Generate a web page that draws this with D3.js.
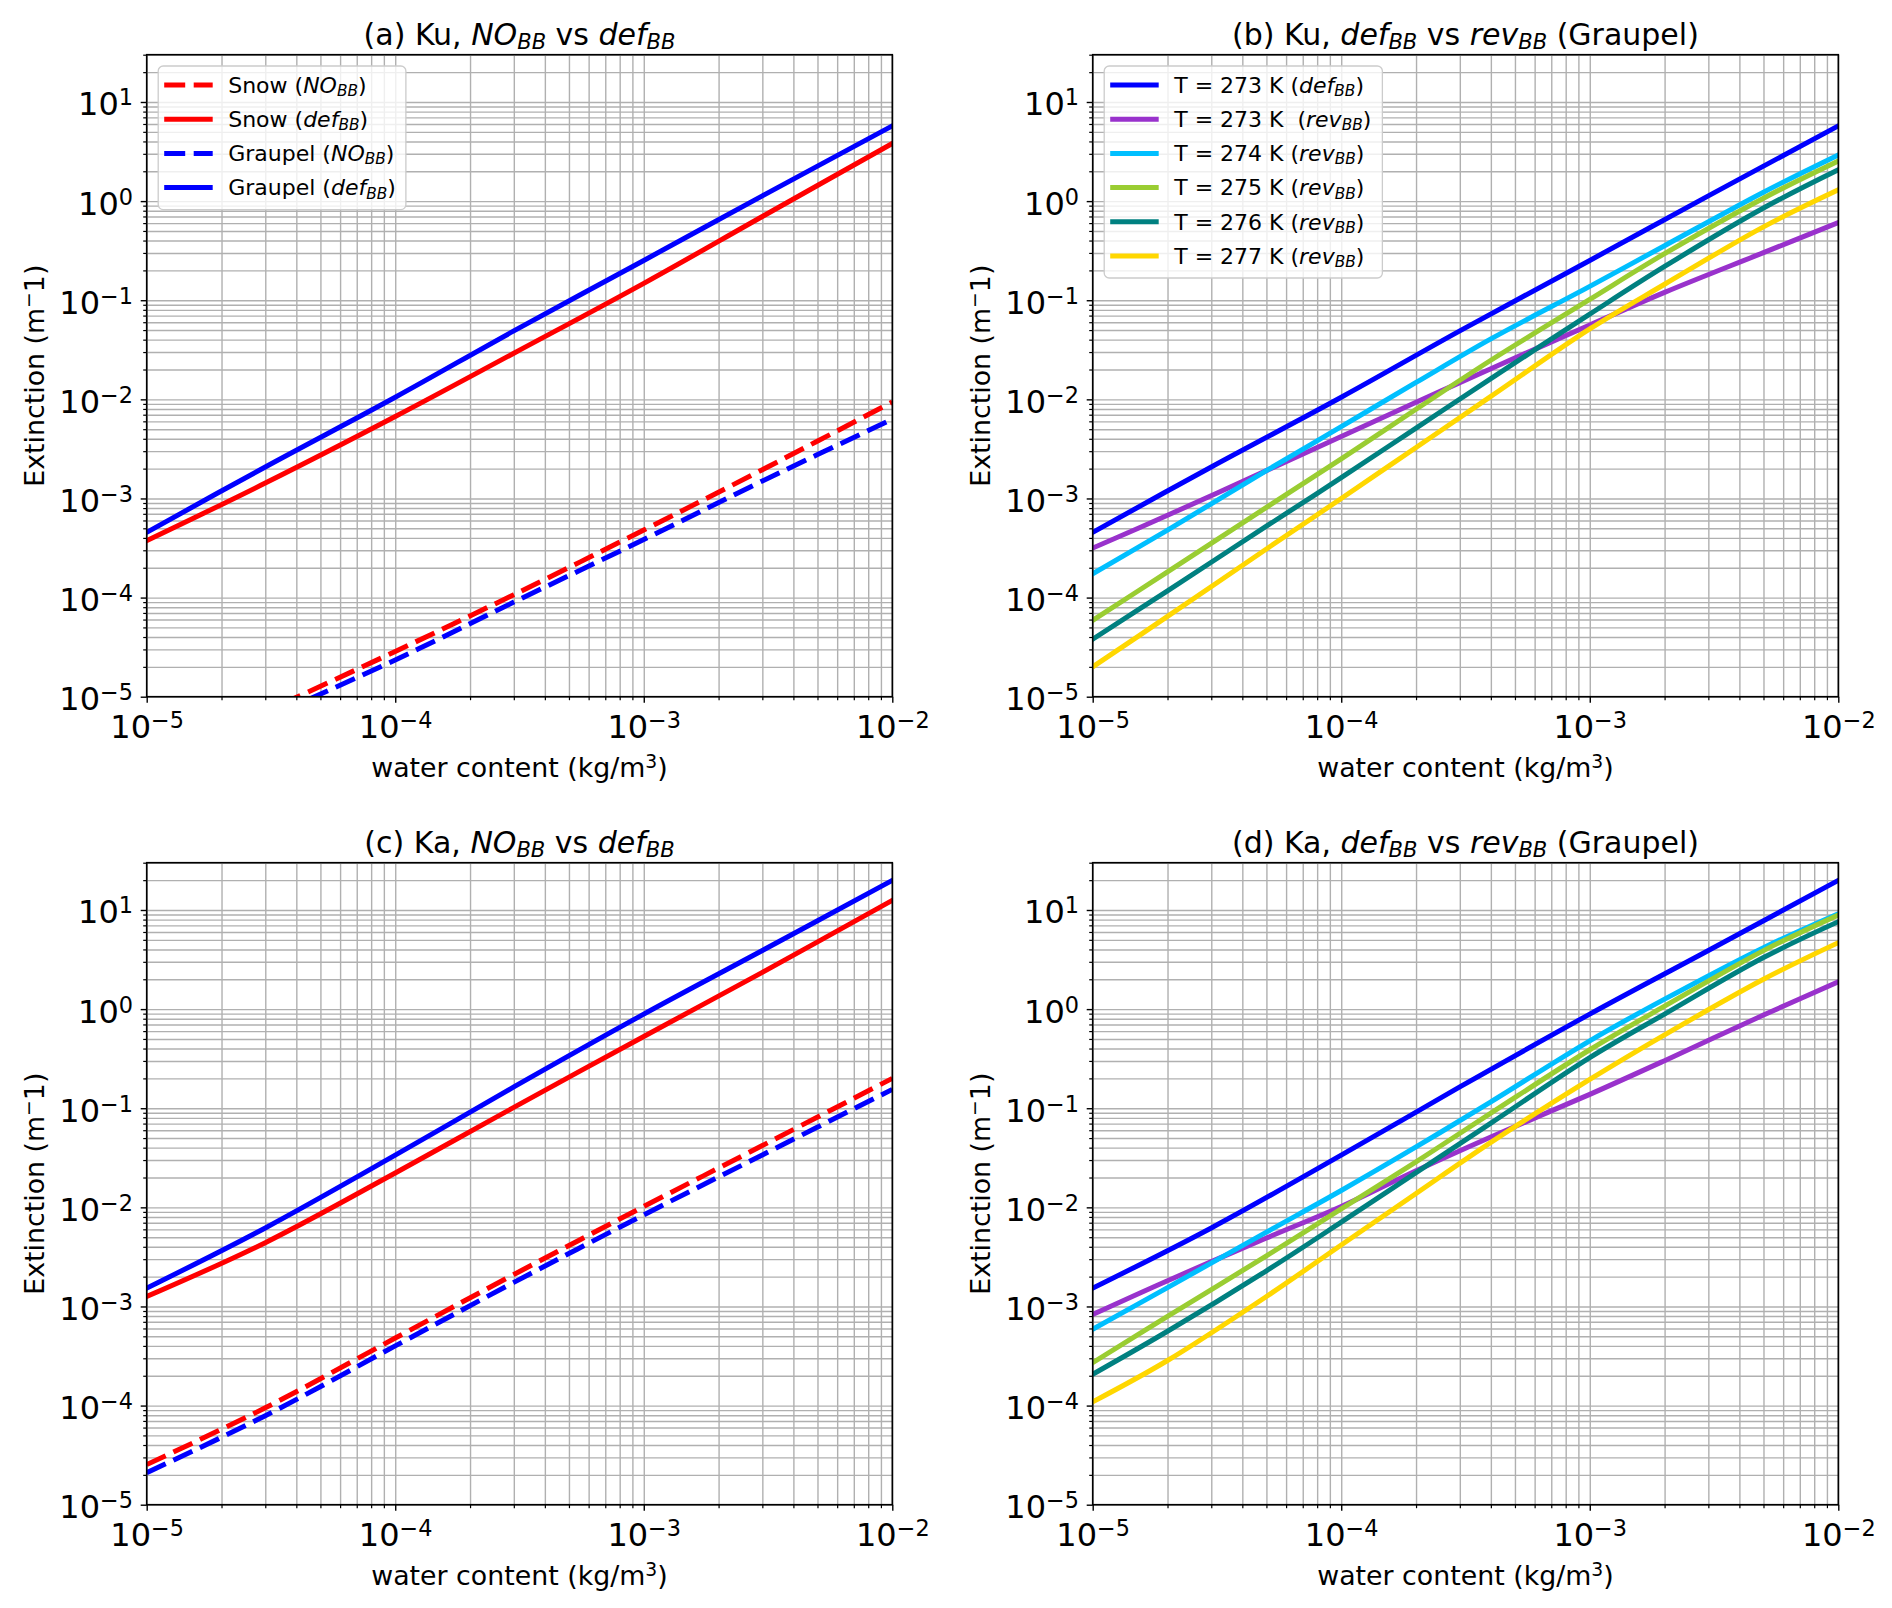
<!DOCTYPE html>
<html>
<head>
<meta charset="utf-8">
<script src="https://cdn.jsdelivr.net/npm/d3@7"></script>
<style>
  body { margin: 0; background: #ffffff; }
  text { font-family: "DejaVu Sans", sans-serif; fill: #000; white-space: pre; }
</style>
</head>
<body>
<svg id="chart" width="1892" height="1608"></svg>
<script>
// ---------------- DATA ----------------
// water content (kg/m^3) sample points
const xNO  = [1e-5, 3e-5, 1e-4, 3e-4, 1e-3, 3e-3, 1e-2];
const xRev = [1e-5, 2e-5, 5e-5, 1e-4, 2e-4, 4e-4, 1e-3, 2e-3, 5e-3, 1e-2];

// (a) Ku, NO_BB vs def_BB  -- extinction (m^-1)
const kuSnowNO     = [2.1e-6, 7.1e-6, 2.86e-5, 1.07e-4, 4.8e-4, 1.95e-3, 9.4e-3];
const kuSnowDef    = [3.75e-4, 1.43e-3, 6.71e-3, 0.0292, 0.148, 0.70, 3.82];
const kuGraupelNO  = [1.8e-6, 6.0e-6, 2.35e-5, 9.0e-5, 3.85e-4, 1.5e-3, 6.3e-3];
const kuGraupelDef = [4.55e-4, 2.08e-3, 0.0105, 0.049, 0.252, 1.13, 5.74];

// (c) Ka, NO_BB vs def_BB
const kaSnowNO     = [2.54e-5, 9.5e-5, 4.8e-4, 2.1e-3, 0.0102, 0.042, 0.2];
const kaSnowDef    = [1.26e-3, 4.4e-3, 0.0222, 0.102, 0.53, 2.35, 12.5];
const kaGraupelNO  = [2.1e-5, 7.9e-5, 4.0e-4, 1.75e-3, 8.4e-3, 0.0338, 0.155];
const kaGraupelDef = [1.53e-3, 6.2e-3, 0.0336, 0.164, 0.89, 3.9, 19.9];

// (b) Ku, def_BB vs rev_BB (Graupel)
const kuRev273 = [3.16e-4, 6.76e-4, 1.91e-3, 4.22e-3, 9.33e-3, 0.0204, 0.0562, 0.120, 0.302, 0.607];
const kuRev274 = [1.74e-4, 4.79e-4, 1.91e-3, 5.31e-3, 0.0148, 0.0407, 0.138, 0.355, 1.23, 2.92];
const kuRev275 = [5.89e-5, 1.82e-4, 8.13e-4, 2.51e-3, 7.94e-3, 0.0248, 0.102, 0.295, 1.07, 2.54];
const kuRev276 = [3.8e-5, 1.17e-4, 5.25e-4, 1.62e-3, 5.13e-3, 0.0162, 0.0724, 0.219, 0.851, 2.07];
const kuRev277 = [2.0e-5, 6.46e-5, 3.09e-4, 1.0e-3, 3.27e-3, 0.0107, 0.0513, 0.145, 0.55, 1.30];

// (d) Ka, def_BB vs rev_BB (Graupel)
const kaRev273 = [8.3e-4, 1.82e-3, 4.9e-3, 0.0102, 0.0234, 0.0513, 0.138, 0.302, 0.871, 1.89];
const kaRev274 = [5.89e-4, 1.55e-3, 5.62e-3, 0.0148, 0.0407, 0.116, 0.479, 1.26, 4.17, 9.18];
const kaRev275 = [2.71e-4, 7.94e-4, 3.24e-3, 9.66e-3, 0.0288, 0.0891, 0.389, 1.07, 3.89, 8.91];
const kaRev276 = [2.07e-4, 5.62e-4, 2.29e-3, 7.08e-3, 0.0224, 0.0708, 0.324, 0.891, 3.31, 7.62];
const kaRev277 = [1.09e-4, 2.85e-4, 1.26e-3, 4.17e-3, 0.0138, 0.0452, 0.195, 0.55, 2.0, 4.68];

// axes
const xDomain = [1e-5, 1e-2];
const yDomain = [1e-5, 30];
const xMajorTicks = [1e-5, 1e-4, 1e-3, 1e-2];
const yMajorTicks = [1e-5, 1e-4, 1e-3, 1e-2, 1e-1, 1e0, 1e1];
const xTickExp = ["\u22125", "\u22124", "\u22123", "\u22122"];
const yTickExp = ["\u22125", "\u22124", "\u22123", "\u22122", "\u22121", "0", "1"];

// texts (segments: [text, flags]; i = italic, s = subscript, ^ = superscript)
const titleA = [["(a) Ku, "], ["NO", "i"], ["BB", "is"], [" vs "], ["def", "i"], ["BB", "is"]];
const titleB = [["(b) Ku, "], ["def", "i"], ["BB", "is"], [" vs "], ["rev", "i"], ["BB", "is"], [" (Graupel)"]];
const titleC = [["(c) Ka, "], ["NO", "i"], ["BB", "is"], [" vs "], ["def", "i"], ["BB", "is"]];
const titleD = [["(d) Ka, "], ["def", "i"], ["BB", "is"], [" vs "], ["rev", "i"], ["BB", "is"], [" (Graupel)"]];
const xLabel = [["water content (kg/m"], ["3", "^"], [")"]];
const yLabel = [["Extinction (m"], ["\u2212", "^"], ["1)"]];

const labSnowNO     = [["Snow ("], ["NO", "i"], ["BB", "is"], [")"]];
const labSnowDef    = [["Snow ("], ["def", "i"], ["BB", "is"], [")"]];
const labGraupelNO  = [["Graupel ("], ["NO", "i"], ["BB", "is"], [")"]];
const labGraupelDef = [["Graupel ("], ["def", "i"], ["BB", "is"], [")"]];
const labT273def = [["T = 273 K ("], ["def", "i"], ["BB", "is"], [")"]];
const labT273rev = [["T = 273 K  ("], ["rev", "i"], ["BB", "is"], [")"]];
const labT274rev = [["T = 274 K ("], ["rev", "i"], ["BB", "is"], [")"]];
const labT275rev = [["T = 275 K ("], ["rev", "i"], ["BB", "is"], [")"]];
const labT276rev = [["T = 276 K ("], ["rev", "i"], ["BB", "is"], [")"]];
const labT277rev = [["T = 277 K ("], ["rev", "i"], ["BB", "is"], [")"]];

const colSnow = "#ff0000", colGraupel = "#0000ff";
const colT = ["#0000ff", "#9932cc", "#00bfff", "#9acd32", "#008080", "#ffd700"];

// ---------------- LAYOUT ----------------
const W = 745.6, H = 642;
const ORIGIN_X = 146.7, ORIGIN_Y = 54.7, STEP_X = 946, STEP_Y = 808;
const LW = 5, DASH = "21,8.5";

const nbSeries = (sn, sd, gn, gd) => [
  { xs: xNO, ys: sn, color: colSnow, dash: true, label: labSnowNO },
  { xs: xNO, ys: sd, color: colSnow, dash: false, label: labSnowDef },
  { xs: xNO, ys: gn, color: colGraupel, dash: true, label: labGraupelNO },
  { xs: xNO, ys: gd, color: colGraupel, dash: false, label: labGraupelDef }
];
const revSeries = (def, r3, r4, r5, r6, r7) => [
  { xs: xNO, ys: def, color: colT[0], dash: false, label: labT273def },
  { xs: xRev, ys: r3, color: colT[1], dash: false, label: labT273rev },
  { xs: xRev, ys: r4, color: colT[2], dash: false, label: labT274rev },
  { xs: xRev, ys: r5, color: colT[3], dash: false, label: labT275rev },
  { xs: xRev, ys: r6, color: colT[4], dash: false, label: labT276rev },
  { xs: xRev, ys: r7, color: colT[5], dash: false, label: labT277rev }
];

const panels = [
  { id: "a", col: 0, row: 0, title: titleA, legend: true,
    series: nbSeries(kuSnowNO, kuSnowDef, kuGraupelNO, kuGraupelDef) },
  { id: "b", col: 1, row: 0, title: titleB, legend: true,
    series: revSeries(kuGraupelDef, kuRev273, kuRev274, kuRev275, kuRev276, kuRev277) },
  { id: "c", col: 0, row: 1, title: titleC, legend: false,
    series: nbSeries(kaSnowNO, kaSnowDef, kaGraupelNO, kaGraupelDef) },
  { id: "d", col: 1, row: 1, title: titleD, legend: false,
    series: revSeries(kaGraupelDef, kaRev273, kaRev274, kaRev275, kaRev276, kaRev277) }
];

// ---------------- HELPERS ----------------
function rich(sel, segs, size) {
  let shift = 0;
  segs.forEach(([t, f = ""]) => {
    const ts = sel.append("tspan").text(t);
    const sub = f.includes("s"), sup = f.includes("^");
    const target = sub ? 0.15 * size : (sup ? -0.33 * size : 0);
    const dy = target - shift;
    shift = target;
    if (dy !== 0) ts.attr("dy", dy);
    if (sub || sup) ts.attr("font-size", size * 0.7);
    if (f.includes("i")) ts.attr("font-style", "italic");
  });
  return sel;
}

const svg = d3.select("#chart");
svg.append("rect").attr("width", 1892).attr("height", 1608).attr("fill", "#fff");

const x = d3.scaleLog().domain(xDomain).range([0, W]);
const y = d3.scaleLog().domain(yDomain).range([H, 0]);
const xAll = x.ticks().filter(v => v >= xDomain[0] * 0.999 && v <= xDomain[1] * 1.001);
const yAll = y.ticks().filter(v => v >= yDomain[0] * 0.999 && v <= yDomain[1] * 1.001);
const isMajor = v => Math.abs(Math.log10(v) - Math.round(Math.log10(v))) < 1e-6;
const xMinor = xAll.filter(v => !isMajor(v));
const yMinor = yAll.filter(v => !isMajor(v));

const line = d3.line().x(d => x(d[0])).y(d => y(d[1])).curve(d3.curveCatmullRom.alpha(0.5));

panels.forEach(p => {
  const left = ORIGIN_X + p.col * STEP_X, top = ORIGIN_Y + p.row * STEP_Y;
  const g = svg.append("g").attr("transform", `translate(${left},${top})`);

  // clip
  const clipId = "clip-" + p.id;
  svg.append("defs").append("clipPath").attr("id", clipId)
    .append("rect").attr("x", 0).attr("y", 0).attr("width", W).attr("height", H);

  // grid (major + minor)
  const gx = g.append("g").attr("transform", `translate(0,${H})`)
    .call(d3.axisBottom(x).tickValues(xAll).tickSizeInner(-H).tickSizeOuter(0).tickFormat(""));
  const gy = g.append("g")
    .call(d3.axisLeft(y).tickValues(yAll).tickSizeInner(-W).tickSizeOuter(0).tickFormat(""));
  [gx, gy].forEach(s => {
    s.select(".domain").remove();
    s.selectAll(".tick line").attr("stroke", "#b0b0b0").attr("stroke-width", 1.4);
  });

  // data lines
  const lg = g.append("g").attr("clip-path", `url(#${clipId})`);
  p.series.forEach(s => {
    const pts = s.xs.map((xv, i) => [xv, s.ys[i]]);
    lg.append("path").attr("d", line(pts))
      .attr("fill", "none").attr("stroke", s.color).attr("stroke-width", LW)
      .attr("stroke-dasharray", s.dash ? DASH : null)
      .attr("stroke-linecap", s.dash ? "butt" : "square");
  });

  // minor ticks
  const mx = g.append("g").attr("transform", `translate(0,${H})`)
    .call(d3.axisBottom(x).tickValues(xMinor).tickSizeInner(3.5).tickSizeOuter(0).tickFormat(""));
  const my = g.append("g")
    .call(d3.axisLeft(y).tickValues(yMinor).tickSizeInner(3.5).tickSizeOuter(0).tickFormat(""));
  [mx, my].forEach(s => {
    s.select(".domain").remove();
    s.selectAll(".tick line").attr("stroke", "#000").attr("stroke-width", 1.2);
  });

  // major ticks + labels
  const ax = g.append("g").attr("transform", `translate(0,${H})`)
    .call(d3.axisBottom(x).tickValues(xMajorTicks).tickSizeInner(6).tickSizeOuter(0).tickFormat(() => ""));
  ax.select(".domain").remove();
  ax.selectAll(".tick line").attr("stroke", "#000").attr("stroke-width", 1.4);
  ax.selectAll(".tick text").each(function (d, i) {
    const t = d3.select(this).attr("y", 41.5).attr("dy", null)
      .attr("font-size", 32).attr("text-anchor", "middle").attr("fill", "#000")
      .style("font-family", '"DejaVu Sans", sans-serif');
    t.text(null);
    rich(t, [["10"], [xTickExp[i], "^"]], 32);
    t.selectAll("tspan").filter((_, k) => k === 1).attr("dy", -10);
  });

  const ay = g.append("g")
    .call(d3.axisLeft(y).tickValues(yMajorTicks).tickSizeInner(6).tickSizeOuter(0).tickFormat(() => ""));
  ay.select(".domain").remove();
  ay.selectAll(".tick line").attr("stroke", "#000").attr("stroke-width", 1.4);
  ay.selectAll(".tick text").each(function (d, i) {
    const t = d3.select(this).attr("x", -13.7).attr("dy", null).attr("y", 13)
      .attr("font-size", 32).attr("text-anchor", "end").attr("fill", "#000")
      .style("font-family", '"DejaVu Sans", sans-serif');
    t.text(null);
    rich(t, [["10"], [yTickExp[i], "^"]], 32);
    t.selectAll("tspan").filter((_, k) => k === 1).attr("dy", -10);
  });

  // spines
  g.append("rect").attr("width", W).attr("height", H)
    .attr("fill", "none").attr("stroke", "#000").attr("stroke-width", 1.6);

  // title
  rich(g.append("text").attr("x", W / 2).attr("y", 44.5 - ORIGIN_Y)
    .attr("text-anchor", "middle").attr("font-size", 30), p.title, 30);

  // axis labels
  rich(g.append("text").attr("x", W / 2).attr("y", 777 - ORIGIN_Y)
    .attr("text-anchor", "middle").attr("font-size", 26.8), xLabel, 26.8);
  rich(g.append("text").attr("transform", `translate(${44 - ORIGIN_X},${H / 2}) rotate(-90)`)
    .attr("text-anchor", "middle").attr("font-size", 26.8), yLabel, 26.8);

  // legend
  if (p.legend) {
    const bx = 11.5, by = 11.3, rowH = 34.2, fs = 22;
    const leg = g.append("g").attr("transform", `translate(${bx},${by})`);
    const box = leg.append("rect").attr("rx", 5).attr("ry", 5)
      .attr("fill", "#fff").attr("fill-opacity", 0.8)
      .attr("stroke", "#cccccc").attr("stroke-width", 1.3);
    const texts = [];
    p.series.forEach((s, i) => {
      const cy = 19 + i * rowH;
      leg.append("line").attr("x1", 6).attr("x2", 54.5).attr("y1", cy).attr("y2", cy)
        .attr("stroke", s.color).attr("stroke-width", LW)
        .attr("stroke-dasharray", s.dash ? DASH : null);
      const t = leg.append("text").attr("x", 70).attr("y", cy + 7.7).attr("font-size", fs);
      rich(t, s.label, fs);
      texts.push(t.node());
    });
    const maxW = d3.max(texts, n => n.getBBox().width);
    box.attr("width", 70 + maxW + 10).attr("height", 19 + (p.series.length - 1) * rowH + 22);
  }
});
</script>
</body>
</html>
